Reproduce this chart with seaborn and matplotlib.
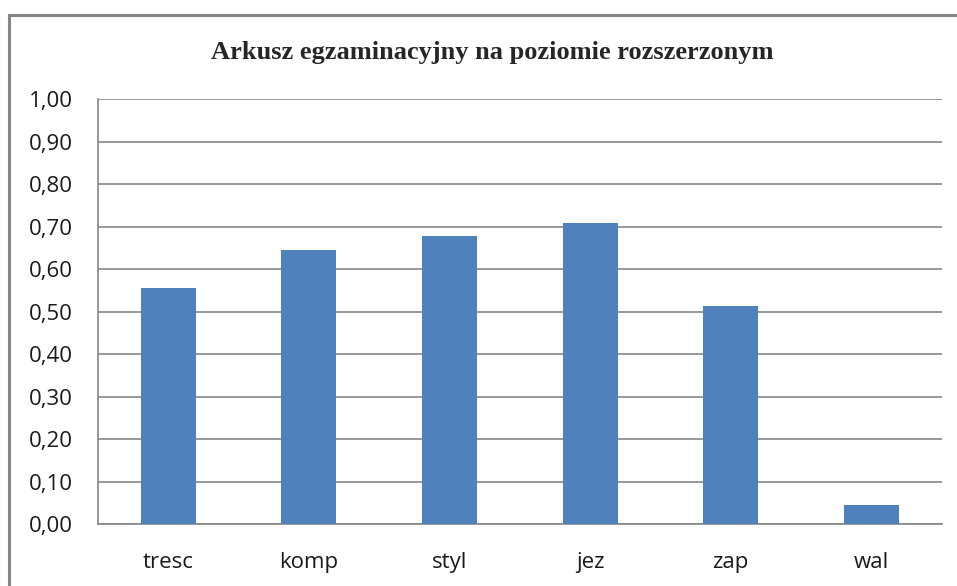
import pandas as pd
import matplotlib.pyplot as plt
import seaborn as sns
from matplotlib.patches import Rectangle
from matplotlib.ticker import FuncFormatter, FixedLocator

# dane
categories = ['tresc', 'komp', 'styl', 'jez', 'zap', 'wal']
values = [0.555, 0.645, 0.678, 0.708, 0.513, 0.045]
title = 'Arkusz egzaminacyjny na poziomie rozszerzonym'

df = pd.DataFrame({'kat': categories, 'wart': values})

sns.set_style('white')
plt.rcParams['font.family'] = ['Open Sans', 'DejaVu Sans']

fig = plt.figure(figsize=(9.57, 5.86), dpi=100)
ax = fig.add_axes([0.1024, 0.1058, 0.8816, 0.7252])

sns.barplot(data=df, x='kat', y='wart', color='#4F81BD', width=0.39,
            saturation=1, linewidth=0, ax=ax, zorder=3)

ax.set_ylim(0, 1.0)
ax.set_xlim(-0.5, len(categories) - 0.5)
ax.set_yticks([i / 10 for i in range(11)])
ax.yaxis.set_major_formatter(FuncFormatter(lambda v, p: f'{v:.2f}'.replace('.', ',')))
ax.grid(axis='y', color='#868686', linewidth=1.2, zorder=0)
ax.set_xlabel('')
ax.set_ylabel('')

for s in ['top', 'right']:
    ax.spines[s].set_visible(False)
for s in ['left', 'bottom']:
    ax.spines[s].set_color('#868686')
    ax.spines[s].set_linewidth(1.2)

ax.tick_params(axis='y', length=6, width=1.2, color='#868686', labelsize=16, pad=12,
               labelcolor='#1a1a1a')
ax.tick_params(axis='x', which='major', length=0, labelsize=16, pad=20,
               labelcolor='#1a1a1a')
ax.xaxis.set_minor_locator(FixedLocator([i - 0.5 for i in range(len(categories) + 1)]))
ax.tick_params(axis='x', which='minor', length=6, color='#868686', width=1.2)

fig.text(0.514, 0.911, title, ha='center', va='center', fontsize=19,
         fontweight='bold', family=['Liberation Serif', 'DejaVu Serif'])

# ramka wykresu
fig.patches.append(Rectangle((9 / 957, -0.01), 1.0, 1 - 15 / 586 + 0.01,
                             transform=fig.transFigure, fill=False,
                             edgecolor='#868686', linewidth=2.2))

fig.savefig('out.png', dpi=100)
